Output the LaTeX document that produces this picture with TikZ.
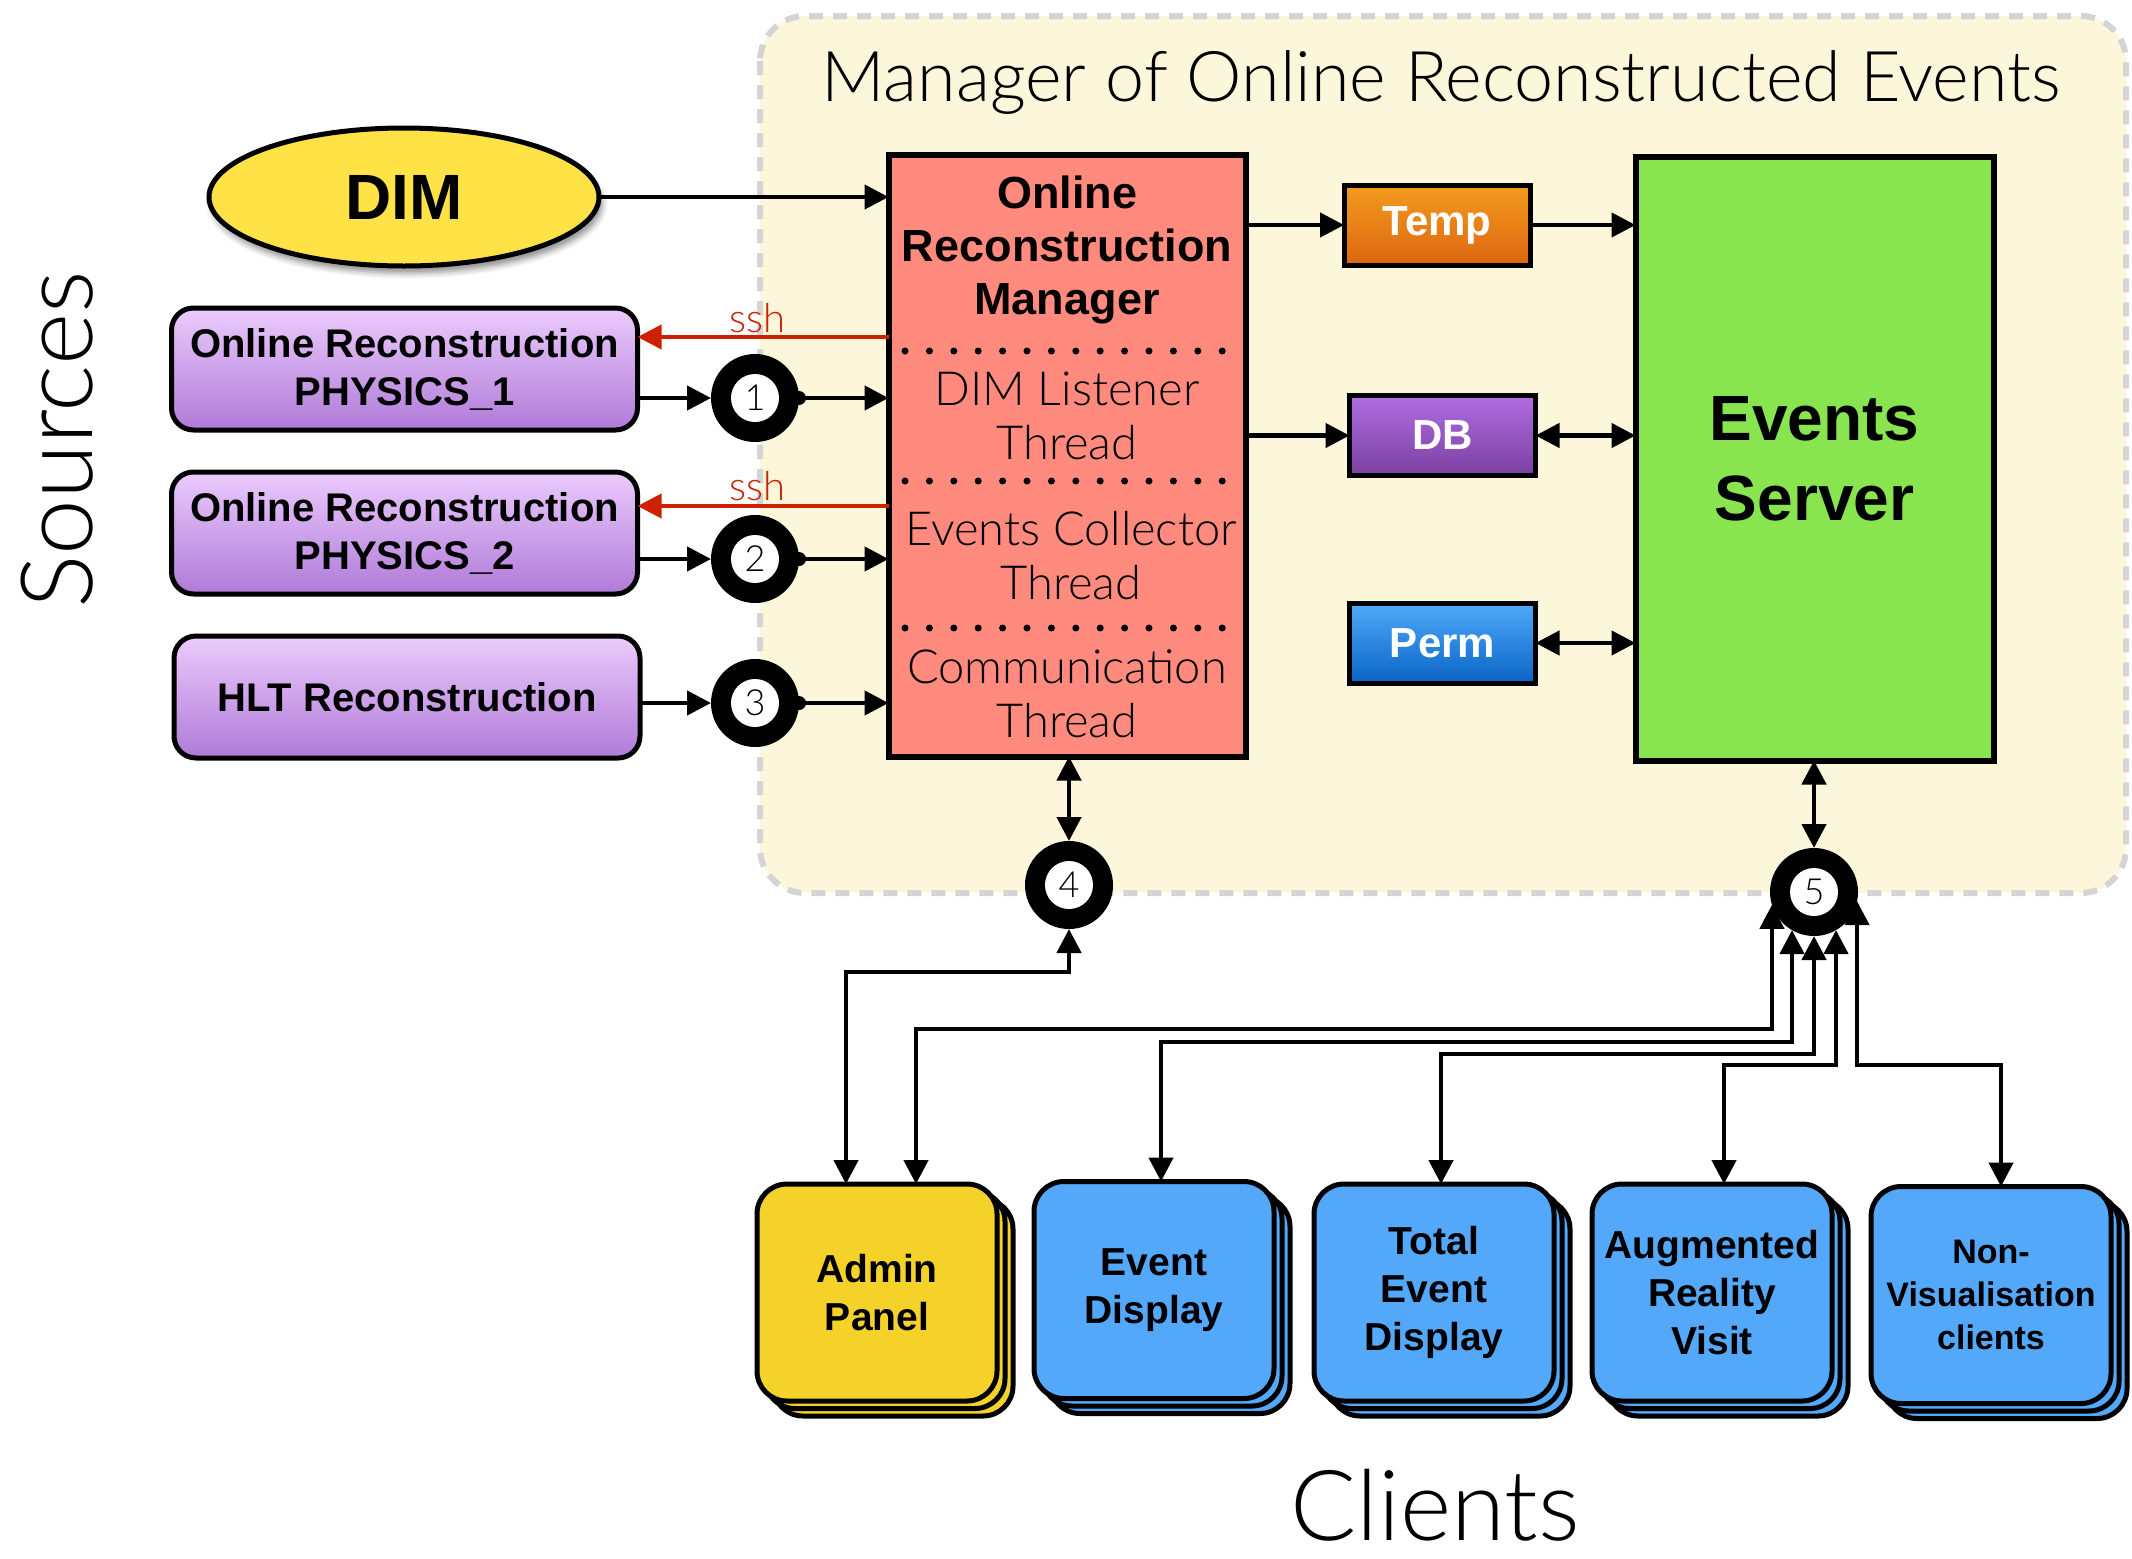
\documentclass[tikz,border=0pt]{standalone}
\usepackage{fontspec}
\setmainfont{Liberation Sans}
\newfontfamily\lightfont{Lato Light}
\usetikzlibrary{arrows.meta,shapes.geometric,shadows.blur}

\definecolor{bgcream}{HTML}{FCF6DA}
\definecolor{bgdash}{HTML}{D4D4D4}
\definecolor{dimyellow}{HTML}{FFE246}
\definecolor{ormred}{HTML}{FF8A7D}
\definecolor{esgreen}{HTML}{88E550}
\definecolor{srctop}{HTML}{EBCBFC}
\definecolor{srcbot}{HTML}{B07AD8}
\definecolor{temptop}{HTML}{F39C1F}
\definecolor{tempbot}{HTML}{DD6510}
\definecolor{dbtop}{HTML}{B06DE2}
\definecolor{dbbot}{HTML}{7A40A0}
\definecolor{permtop}{HTML}{4EAAF9}
\definecolor{permbot}{HTML}{0A64C6}
\definecolor{clientblue}{HTML}{53A8F9}
\definecolor{adminyellow}{HTML}{F5D22A}
\definecolor{sshred}{HTML}{CC2200}

\tikzset{
  tipA/.tip={Triangle[length=24pt,width=24pt]},
  conn/.style={line width=4.5pt, -tipA},
  biconn/.style={line width=4.5pt, tipA-tipA},
  sshconn/.style={line width=4pt, draw=sshred, -{Triangle[length=24pt,width=24pt,color=sshred]}},
  srcbox/.style={draw=black, line width=5pt, rounded corners=22pt,
    top color=srctop, bottom color=srcbot, minimum width=466pt, minimum height=122pt,
    align=center, font=\bfseries\fontsize{40}{48}\selectfont},
  storebox/.style={draw=black, line width=5pt, minimum width=186pt, minimum height=80pt,
    text=white, font=\bfseries\fontsize{42}{42}\selectfont},
  clientbox/.style={draw=black, line width=5pt, rounded corners=30pt,
    minimum width=240pt, minimum height=217pt, align=center,
    font=\bfseries\fontsize{39}{48}\selectfont},
  badge/.style={circle, fill=black, minimum size=88pt},
  badgein/.style={circle, fill=white, minimum size=48pt, font=\lightfont\fontsize{36}{36}\selectfont},
  threadtext/.style={align=center, font=\lightfont\fontsize{47}{54}\selectfont},
  sepdots/.style={line width=7pt, line cap=round, dash pattern=on 0pt off 24.4pt},
}

\begin{document}
\begin{tikzpicture}[x=1pt,y=-1pt, every node/.style={inner sep=0pt, outer sep=0pt}]
\useasboundingbox (0,0) rectangle (2132,1558);

% manager area
\path[draw=bgdash, fill=bgcream, line width=6pt, dash pattern=on 14pt off 10pt,
  rounded corners=45pt] (760,16) rectangle (2126,893);
\node[anchor=base, font=\lightfont\fontsize{70}{70}\selectfont] (title) at (1441,101)
  {Manager of Online Reconstructed Events};

% side labels
\node[rotate=90, font=\lightfont\fontsize{100}{100}\selectfont] (srclab) at (57,440) {Sources};
\node[font=\lightfont\fontsize{98}{98}\selectfont] (clilab) at (1435,1505) {Clients};

% DIM
\node[ellipse, draw=black, line width=5pt, fill=dimyellow, minimum width=390pt,
  minimum height=138pt, font=\bfseries\fontsize{64}{64}\selectfont,
  blur shadow={shadow xshift=3pt, shadow yshift=-7pt, shadow blur radius=6pt, shadow opacity=45}]
  (dim) at (404,197) {DIM};

% sources
\node[srcbox] (or1) at (404.5,369) {Online Reconstruction\\PHYSICS\_1};
\node[srcbox] (or2) at (404.5,533) {Online Reconstruction\\PHYSICS\_2};
\node[srcbox] (hlt) at (407,697) {HLT Reconstruction};

% reconstruction manager
\node[draw=black, line width=6pt, fill=ormred, minimum width=357pt, minimum height=602pt]
  (orm) at (1067,455.5) {};
\node[align=center, font=\bfseries\fontsize{45}{53}\selectfont] (ormtitle) at (1067,250)
  {Online\\Reconstruction\\Manager};
\node[threadtext] (dimthr) at (1067,416) {DIM Listener\\Thread};
\node[threadtext] (colthr) at (1071,556) {Events Collector\\Thread};
\node[threadtext] (comthr) at (1067,694) {Communication\\Thread};
\draw[sepdots] (905,351) -- (1243,351);
\draw[sepdots] (905,481) -- (1243,481);
\draw[sepdots] (905,628) -- (1243,628);

% storage
\node[storebox, top color=temptop, bottom color=tempbot] (temp) at (1437,225) {Temp};
\node[storebox, top color=dbtop, bottom color=dbbot] (db) at (1442.5,435.5) {DB};
\node[storebox, top color=permtop, bottom color=permbot] (perm) at (1442.5,643) {Perm};

% events server
\node[draw=black, line width=6pt, fill=esgreen, minimum width=358pt, minimum height=604pt,
  align=center, font=\bfseries\fontsize{64}{80}\selectfont] (es) at (1814.5,458.5)
  {Events\\Server};

% numbered junctions
\node[badge] (c1) at (755,398) {};  \node[badgein] (c1n) at (c1) {1};
\node[badge] (c2) at (755,559) {};  \node[badgein] (c2n) at (c2) {2};
\node[badge] (c3) at (755,703) {};  \node[badgein] (c3n) at (c3) {3};
\node[badge] (c4) at (1069,885) {}; \node[badgein] (c4n) at (c4) {4};
\node[badge] (c5) at (1814,892) {}; \node[badgein] (c5n) at (c5) {5};

% clients (stacked cards)
\foreach \nm/\cx/\cy/\col in {ad/877/1292.5/adminyellow, ed/1154/1290/clientblue,
    td/1434/1292.5/clientblue, ar/1712/1292.5/clientblue, nv/1991/1295/clientblue}{
  \node[clientbox, fill=\col] (\nm3) at (\cx+16,\cy+15) {};
  \node[clientbox, fill=\col] (\nm2) at (\cx+8,\cy+7.5) {};
}
\node[clientbox, fill=adminyellow] (ad) at (877,1292.5) {Admin\\Panel};
\node[clientbox, fill=clientblue] (ed) at (1154,1290) {Event\\Display};
\node[clientbox, fill=clientblue] (td) at (1434,1292.5) {Total\\Event\\Display};
\node[clientbox, fill=clientblue] (ar) at (1712,1292.5) {Augmented\\Reality\\Visit};
\node[clientbox, fill=clientblue, font=\bfseries\fontsize{34}{43}\selectfont] (nv)
  at (1991,1295) {Non-\\Visualisation\\clients};

% source connectors
\draw[conn] (dim.east) -- (dim.east -| orm.west);
\draw[sshconn] (orm.west |- 0,337) -- (or1.east |- 0,337);
\draw[sshconn] (orm.west |- 0,506) -- (or2.east |- 0,506);
\node[anchor=base, text=sshred, font=\lightfont\fontsize{40}{40}\selectfont] (ssh1) at (757,332) {ssh};
\node[anchor=base, text=sshred, font=\lightfont\fontsize{40}{40}\selectfont] (ssh2) at (757,500) {ssh};
\foreach \s/\c in {or1/c1, or2/c2, hlt/c3}{
  \draw[conn] (\s.east |- \c.west) -- (\c.west);
  \draw[conn] (\c.east) -- (\c.east -| orm.west);
  \fill (\c.east) circle (7);
}

% manager internals
\draw[conn] (orm.east |- temp.west) -- (temp.west);
\draw[conn] (temp.east) -- (temp.east -| es.west);
\draw[conn] (orm.east |- db.west) -- (db.west);
\draw[biconn] (db.east) -- (db.east -| es.west);
\draw[biconn] (perm.east) -- (perm.east -| es.west);
\draw[biconn] (orm.south -| c4.north) -- (c4.north);
\draw[biconn] (es.south -| c5.north) -- (c5.north);

% client connectors
\coordinate (adA) at ([xshift=-31pt]ad.north);
\coordinate (adB) at ([xshift=39pt]ad.north);
\coordinate (edT) at ([xshift=7pt]ed.north);
\coordinate (tdT) at ([xshift=7pt]td.north);
\coordinate (arT) at ([xshift=12pt]ar.north);
\coordinate (nvT) at ([xshift=10pt]nv.north);
\draw[biconn] (c4.south) |- (adA |- 0,972) -- (adA);
\draw[biconn] (c5.197) |- (adB |- 0,1029) -- (adB);
\draw[biconn] (c5.240) |- (edT |- 0,1042) -- (edT);
\draw[biconn] (c5.south) |- (tdT |- 0,1054) -- (tdT);
\draw[biconn] (c5.300) |- (arT |- 0,1065) -- (arT);
\draw[biconn] (c5.348) |- (nvT |- 0,1065) -- (nvT);
\end{tikzpicture}
\end{document}
